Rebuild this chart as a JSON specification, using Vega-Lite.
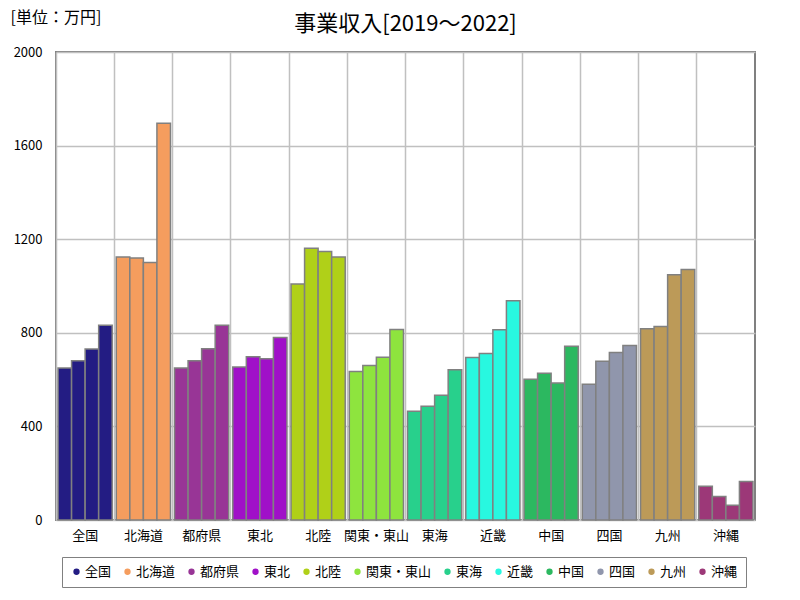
{
  "$schema": "https://vega.github.io/schema/vega-lite/v6.json",
  "width": 699,
  "height": 468,
  "autosize": {"type": "none"},
  "padding": {"left": 56, "top": 52, "right": 45, "bottom": 80},
  "background": "white",
  "title": {
    "text": "事業収入[2019～2022]",
    "font": "Noto Sans CJK JP",
    "fontSize": 22,
    "fontWeight": "normal",
    "color": "#000000",
    "anchor": "middle",
    "offset": -27
  },
  "config": {
    "font": "Noto Sans CJK JP",
    "view": {"stroke": "#808080", "strokeWidth": 2}
  },
  "data": {
    "values": [
      {"group": "全国", "year": "2019", "value": 650},
      {"group": "全国", "year": "2020", "value": 681},
      {"group": "全国", "year": "2021", "value": 731},
      {"group": "全国", "year": "2022", "value": 832},
      {"group": "北海道", "year": "2019", "value": 1124},
      {"group": "北海道", "year": "2020", "value": 1120},
      {"group": "北海道", "year": "2021", "value": 1100},
      {"group": "北海道", "year": "2022", "value": 1696},
      {"group": "都府県", "year": "2019", "value": 650},
      {"group": "都府県", "year": "2020", "value": 681},
      {"group": "都府県", "year": "2021", "value": 732},
      {"group": "都府県", "year": "2022", "value": 832},
      {"group": "東北", "year": "2019", "value": 654},
      {"group": "東北", "year": "2020", "value": 698},
      {"group": "東北", "year": "2021", "value": 689},
      {"group": "東北", "year": "2022", "value": 780},
      {"group": "北陸", "year": "2019", "value": 1009},
      {"group": "北陸", "year": "2020", "value": 1161},
      {"group": "北陸", "year": "2021", "value": 1147},
      {"group": "北陸", "year": "2022", "value": 1124},
      {"group": "関東・東山", "year": "2019", "value": 635},
      {"group": "関東・東山", "year": "2020", "value": 660},
      {"group": "関東・東山", "year": "2021", "value": 695},
      {"group": "関東・東山", "year": "2022", "value": 814},
      {"group": "東海", "year": "2019", "value": 465},
      {"group": "東海", "year": "2020", "value": 486},
      {"group": "東海", "year": "2021", "value": 533},
      {"group": "東海", "year": "2022", "value": 642},
      {"group": "近畿", "year": "2019", "value": 694},
      {"group": "近畿", "year": "2020", "value": 712},
      {"group": "近畿", "year": "2021", "value": 813},
      {"group": "近畿", "year": "2022", "value": 937},
      {"group": "中国", "year": "2019", "value": 601},
      {"group": "中国", "year": "2020", "value": 627},
      {"group": "中国", "year": "2021", "value": 586},
      {"group": "中国", "year": "2022", "value": 743},
      {"group": "四国", "year": "2019", "value": 580},
      {"group": "四国", "year": "2020", "value": 678},
      {"group": "四国", "year": "2021", "value": 716},
      {"group": "四国", "year": "2022", "value": 746},
      {"group": "九州", "year": "2019", "value": 817},
      {"group": "九州", "year": "2020", "value": 827},
      {"group": "九州", "year": "2021", "value": 1048},
      {"group": "九州", "year": "2022", "value": 1070},
      {"group": "沖縄", "year": "2019", "value": 144},
      {"group": "沖縄", "year": "2020", "value": 100},
      {"group": "沖縄", "year": "2021", "value": 63},
      {"group": "沖縄", "year": "2022", "value": 165}
    ]
  },
  "mark": {"type": "bar", "stroke": "#808080", "strokeWidth": 1.5},
  "encoding": {
    "x": {
      "field": "group",
      "type": "nominal",
      "sort": ["全国", "北海道", "都府県", "東北", "北陸", "関東・東山", "東海", "近畿", "中国", "四国", "九州", "沖縄"],
      "scale": {"paddingInner": 0, "paddingOuter": 0},
      "axis": {
        "title": null,
        "labelAngle": 0,
        "labelFontSize": 13,
        "labelColor": "#000000",
        "labelPadding": 9,
        "ticks": false,
        "domain": false,
        "grid": true,
        "bandPosition": 0,
        "gridColor": "#c0c0c0",
        "gridWidth": 1.5
      }
    },
    "xOffset": {
      "field": "year",
      "type": "nominal",
      "scale": {"paddingInner": 0, "paddingOuter": 0.15}
    },
    "y": {
      "field": "value",
      "type": "quantitative",
      "scale": {"domain": [0, 2000], "nice": false},
      "axis": {
        "values": [0, 400, 800, 1200, 1600, 2000],
        "format": "d",
        "title": "[単位：万円]",
        "titleAngle": 0,
        "titleAlign": "left",
        "titleBaseline": "middle",
        "titleX": -46,
        "titleY": -35,
        "titleFontSize": 16,
        "titleFontWeight": "normal",
        "titleColor": "#000000",
        "labelFontSize": 13,
        "labelColor": "#000000",
        "labelPadding": 14,
        "ticks": false,
        "domain": false,
        "gridColor": "#c0c0c0",
        "gridWidth": 1.5
      }
    },
    "color": {
      "field": "group",
      "type": "nominal",
      "sort": ["全国", "北海道", "都府県", "東北", "北陸", "関東・東山", "東海", "近畿", "中国", "四国", "九州", "沖縄"],
      "scale": {
        "domain": ["全国", "北海道", "都府県", "東北", "北陸", "関東・東山", "東海", "近畿", "中国", "四国", "九州", "沖縄"],
        "range": ["#231c83", "#f59d5e", "#983596", "#a010c8", "#b0d018", "#8ee43e", "#28d08c", "#28f8e0", "#2cb860", "#9096ac", "#bc9a58", "#9c3878"]
      },
      "legend": {
        "title": null,
        "orient": "none",
        "legendX": 6,
        "legendY": 505,
        "direction": "horizontal",
        "columns": 12,
        "symbolType": "circle",
        "symbolSize": 40,
        "symbolStrokeWidth": 0,
        "symbolOffset": 0,
        "labelFontSize": 13,
        "labelColor": "#000000",
        "labelOffset": 2,
        "columnPadding": 9,
        "padding": 8,
        "strokeColor": "#808080",
        "fillColor": "white"
      }
    }
  }
}
